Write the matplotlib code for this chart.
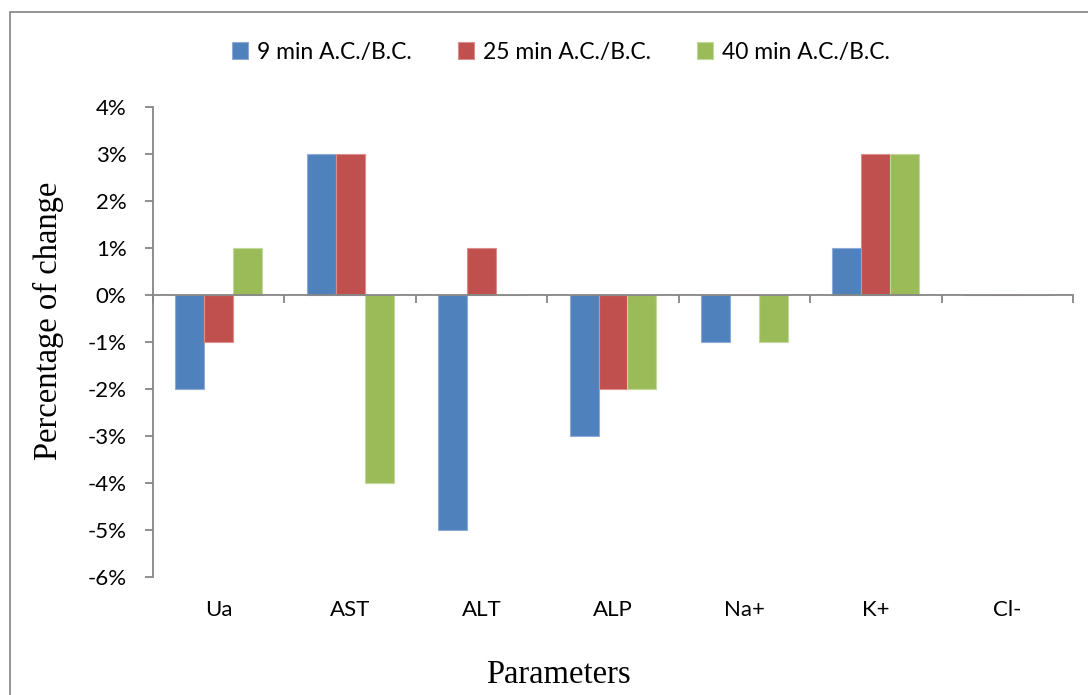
import matplotlib
matplotlib.use("Agg")
import matplotlib.pyplot as plt
from matplotlib.patches import Rectangle
from matplotlib.ticker import FuncFormatter, FixedLocator
import matplotlib.transforms as mtransforms
import numpy as np

categories = ["Ua", "AST", "ALT", "ALP", "Na+", "K+", "Cl-"]
series_names = ["9 min A.C./B.C.", "25 min A.C./B.C.", "40 min A.C./B.C."]
min9 = [-2, 3, -5, -3, -1, 1, 0]
min25 = [-1, 3, 1, -2, 0, 3, 0]
min40 = [1, -4, 0, -2, -1, 3, 0]
colors = ["#4F81BD", "#C0504D", "#9BBB59"]
edge_colors = ["#8EAAD6", "#D98E8C", "#C2D79C"]
yticks = [4, 3, 2, 1, 0, -1, -2, -3, -4, -5, -6]

sans = ["Lato", "DejaVu Sans"]
serif = ["Liberation Serif", "DejaVu Serif"]

fig = plt.figure(figsize=(10.88, 6.95), dpi=100)
ax = fig.add_axes([153 / 1088, 1 - 577 / 695, (1073 - 153) / 1088, (577 - 107) / 695])

# outer chart frame
fig.patches.append(Rectangle((10 / 1088, -0.1), 1.2, 1 - 12 / 695 + 0.1,
                             transform=fig.transFigure, fill=False,
                             edgecolor="#8C8C8C", linewidth=1.3))

x = np.arange(len(categories))
w = 0.22
for i, (vals, c, ec, name) in enumerate(zip([min9, min25, min40], colors, edge_colors, series_names)):
    ax.bar(x + (i - 1) * w, vals, width=w, color=c, edgecolor=ec, linewidth=0.8,
           label=name, zorder=2)

ax.set_xlim(-0.5, len(categories) - 0.5)
ax.set_ylim(-6, 4)

axis_color = "#868686"
for s in ["top", "right"]:
    ax.spines[s].set_visible(False)
ax.spines["left"].set_color(axis_color)
ax.spines["left"].set_linewidth(1.3)
ax.spines["bottom"].set_position(("data", 0))
ax.spines["bottom"].set_color(axis_color)
ax.spines["bottom"].set_linewidth(1.3)
ax.spines["bottom"].set_zorder(3)

ax.yaxis.set_major_locator(FixedLocator(yticks))
ax.yaxis.set_major_formatter(FuncFormatter(lambda v, p: f"{int(round(v))}%"))
ax.tick_params(axis="y", direction="out", length=6, width=1.3, color=axis_color,
               pad=13, labelsize=16)
for lab in ax.get_yticklabels():
    lab.set_family(sans)

ax.xaxis.set_major_locator(FixedLocator(np.arange(-0.5, len(categories), 1.0)))
ax.tick_params(axis="x", direction="out", length=6, width=1.3, color=axis_color,
               labelbottom=False)

trans = mtransforms.blended_transform_factory(ax.transData, ax.transAxes)
for xi, cat in zip(x, categories):
    ax.text(xi, -0.07, cat, transform=trans, ha="center", va="center",
            fontsize=16, family=sans)

fig.text(48 / 1088, 1 - 321 / 695, "Percentage of change", rotation=90,
         ha="center", va="center", fontsize=23.5, family=serif)
fig.text(558 / 1088, 1 - 675 / 695, "Parameters", ha="center", va="center",
         fontsize=23.5, family=serif)

fig.legend(loc="center", bbox_to_anchor=(561 / 1088, 1 - 52 / 695), ncol=3,
           frameon=False, prop={"family": sans, "size": 16.5},
           handlelength=0.7, handleheight=0.7, handletextpad=0.4,
           columnspacing=2.0)

fig.savefig("out.png", dpi=100)
